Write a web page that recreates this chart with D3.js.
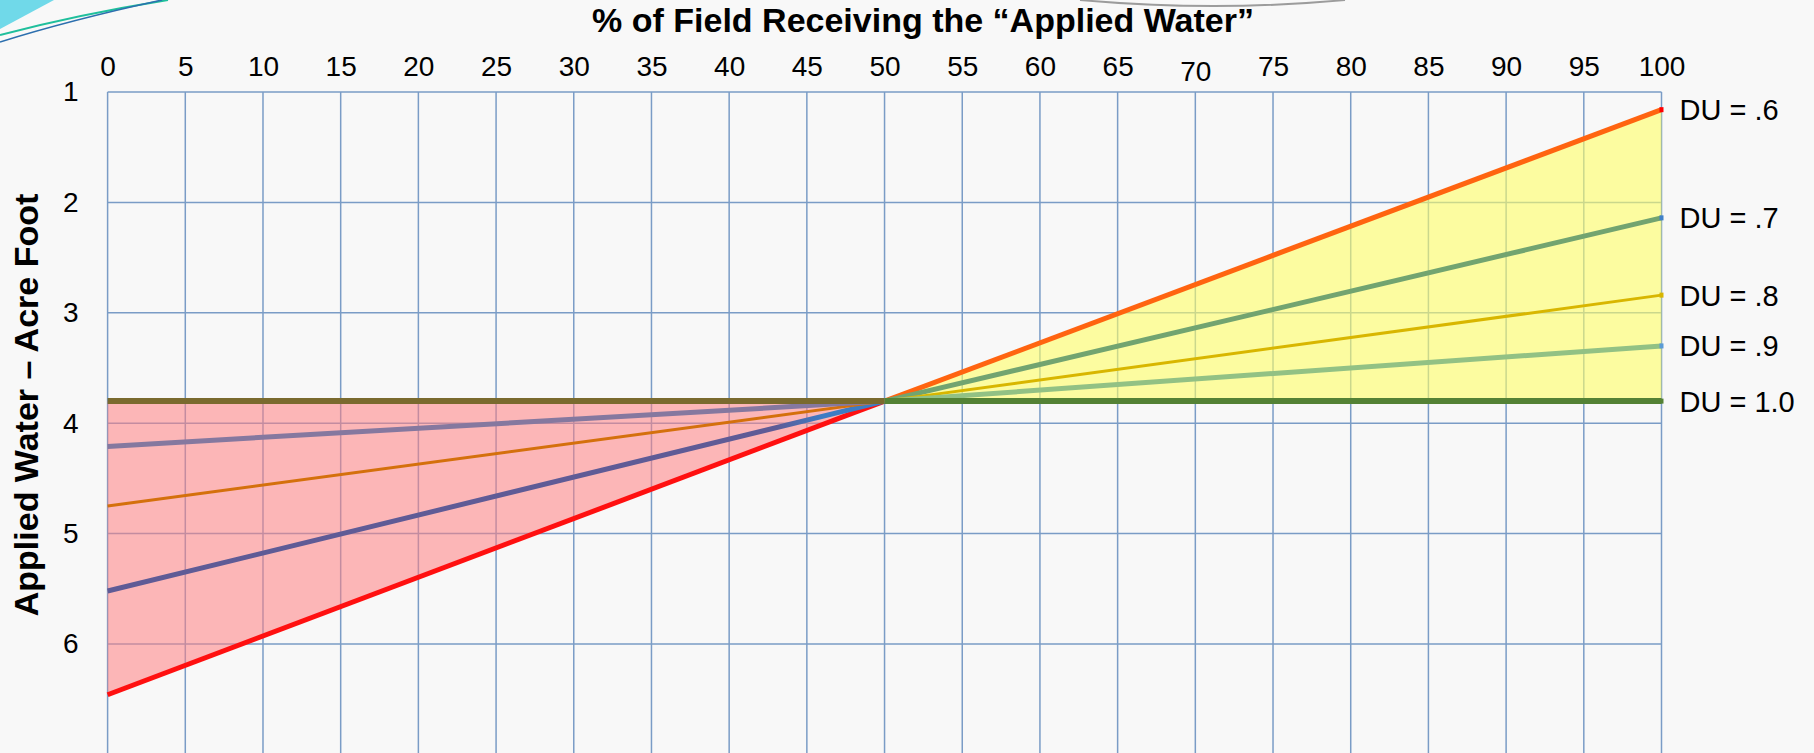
<!DOCTYPE html>
<html lang="en">
<head>
    <meta charset="UTF-8">
    <title>Applied Water by Distribution Uniformity</title>
    <script src="https://d3js.org/d3.v7.min.js"></script>
    <style>
        body {
            margin: 0;
            background-color: #f8f8f8;
            font-family: "Liberation Sans", Arial, sans-serif;
        }
        svg {
            display: block;
        }
    </style>
</head>
<body>
    <svg></svg>

    <script>
        // data
        const xTicks = [0, 5, 10, 15, 20, 25, 30, 35, 40, 45, 50, 55, 60, 65, 70, 75, 80, 85, 90, 95, 100];
        const yTicks = [1, 2, 3, 4, 5, 6, 7];
        const duLabels = ["DU = .6", "DU = .7", "DU = .8", "DU = .9", "DU = 1.0"];
        const startValues = [6.46, 5.52, 4.75, 4.21, 3.80];   // applied water at 0 %
        const meetPercent = 50;                                // where all lines cross
        const meetValue = 3.80;
        const endValues = [1.16, 2.14, 2.84, 3.30, 3.80];     // applied water at 100 %

        // styles
        const leftColors = ["#ff1010", "url(#du7fade)", "#d4700c", "#85789f", "#7a6a2e"];
        const rightColors = ["#ff6410", "#72a470", "#d8b600", "#92c184", "#548235"];
        const lineWidths = [5, 5, 3, 5, 6];
        const endDotColors = ["#ff0000", "#3f80c8", "#d8b600", "#5b9bd5", "#548235"];

        const width = 1814;
        const height = 753;
        const margin = { top: 92, right: 152.5, left: 107.6 };

        const svg = d3.select("svg")
            .attr("width", width)
            .attr("height", height);

        const x = d3.scaleLinear()
            .domain([0, 100])
            .range([margin.left, width - margin.right]);

        const y = d3.scaleLinear()
            .domain([1, 7])
            .range([margin.top, margin.top + 6 * 110.4]);

        // DU .7 turns blue just before the crossing point
        const grad = svg.append("defs").append("linearGradient")
            .attr("id", "du7fade")
            .attr("gradientUnits", "userSpaceOnUse")
            .attr("x1", x(0)).attr("x2", x(meetPercent))
            .attr("y1", 0).attr("y2", 0);
        grad.append("stop").attr("offset", 0.86).attr("stop-color", "#5f5b96");
        grad.append("stop").attr("offset", 0.92).attr("stop-color", "#3d7cc4");

        // template decoration in the corners
        const deco = svg.append("g");
        deco.append("path")
            .attr("d", "M0,0 L54,0 L0,29 Z")
            .attr("fill", "#70d9e9");
        deco.append("path")
            .attr("d", "M0,35 Q80,14 168,0")
            .attr("fill", "none")
            .attr("stroke", "#1fbf9c")
            .attr("stroke-width", 2);
        deco.append("path")
            .attr("d", "M0,42 Q70,20 162,0")
            .attr("fill", "none")
            .attr("stroke", "#2c6fae")
            .attr("stroke-width", 1.5);
        deco.append("path")
            .attr("d", "M1080,0 Q1215,12 1345,0")
            .attr("fill", "none")
            .attr("stroke", "#9c9c9c")
            .attr("stroke-width", 2);

        // grid
        const grid = svg.append("g")
            .attr("stroke", "#7a9cc6")
            .attr("stroke-width", 1.5);

        grid.selectAll(".vline")
            .data(xTicks)
            .enter().append("line")
            .attr("x1", d => x(d))
            .attr("x2", d => x(d))
            .attr("y1", y(1))
            .attr("y2", y(7));

        grid.selectAll(".hline")
            .data(yTicks)
            .enter().append("line")
            .attr("x1", x(0))
            .attr("x2", x(100))
            .attr("y1", d => y(d))
            .attr("y2", d => y(d));

        // shaded bands between DU 1.0 and DU .6
        const lowIdx = 0, highIdx = duLabels.length - 1;
        const band = d3.area()
            .x(d => x(d.p))
            .y0(d => y(d.a))
            .y1(d => y(d.b));

        svg.append("path")
            .datum([
                { p: 0, a: startValues[lowIdx], b: startValues[highIdx] },
                { p: meetPercent, a: meetValue, b: meetValue }
            ])
            .attr("fill", "#ff7f82")
            .attr("fill-opacity", 0.55)
            .attr("d", band);

        svg.append("path")
            .datum([
                { p: meetPercent, a: meetValue, b: meetValue },
                { p: 100, a: endValues[lowIdx], b: endValues[highIdx] }
            ])
            .attr("fill", "#ffff66")
            .attr("fill-opacity", 0.6)
            .attr("d", band);

        // DU lines, each made of a left and a right part
        const line = d3.line()
            .x(d => x(d[0]))
            .y(d => y(d[1]));

        duLabels.forEach((label, i) => {
            svg.append("path")
                .datum([[0, startValues[i]], [meetPercent, meetValue]])
                .attr("fill", "none")
                .attr("stroke", leftColors[i])
                .attr("stroke-width", lineWidths[i])
                .attr("d", line);

            svg.append("path")
                .datum([[meetPercent, meetValue], [100, endValues[i]]])
                .attr("fill", "none")
                .attr("stroke", rightColors[i])
                .attr("stroke-width", lineWidths[i])
                .attr("d", line);

            svg.append("rect")
                .attr("x", x(100) - 2)
                .attr("y", y(endValues[i]) - 2.5)
                .attr("width", 4)
                .attr("height", 5)
                .attr("fill", endDotColors[i]);
        });

        // DU labels on the right
        svg.append("g")
            .selectAll("text")
            .data(duLabels)
            .enter().append("text")
            .attr("x", x(100) + 18)
            .attr("y", (d, i) => y(endValues[i]))
            .attr("dy", "0.36em")
            .attr("font-size", "29px")
            .attr("fill", "#000")
            .text(d => d);

        // axes: labels only, the grid does the rest
        const xAxis = svg.append("g")
            .attr("transform", "translate(0," + y(1) + ")")
            .call(d3.axisTop(x).tickValues(xTicks).tickSize(0).tickPadding(16).tickFormat(d3.format("d")));
        xAxis.select(".domain").remove();
        xAxis.attr("font-size", 28).attr("font-family", "Liberation Sans, Arial, sans-serif");
        xAxis.selectAll("text").attr("fill", "#000");
        xAxis.selectAll("text").filter(d => d === 70).attr("dy", "0.18em");

        const yAxis = svg.append("g")
            .attr("transform", "translate(" + x(0) + ",0)")
            .call(d3.axisLeft(y).tickValues(yTicks.slice(0, 6)).tickSize(0).tickPadding(29).tickFormat(d3.format("d")));
        yAxis.select(".domain").remove();
        yAxis.attr("font-size", 28).attr("font-family", "Liberation Sans, Arial, sans-serif");
        yAxis.selectAll("text").attr("fill", "#000");

        // titles
        svg.append("text")
            .attr("x", 923)
            .attr("y", 32)
            .attr("text-anchor", "middle")
            .attr("font-size", "34px")
            .attr("font-weight", "bold")
            .text("% of Field Receiving the \u201CApplied Water\u201D");

        svg.append("text")
            .attr("transform", "rotate(-90)")
            .attr("x", -405)
            .attr("y", 26)
            .attr("dy", "0.35em")
            .attr("text-anchor", "middle")
            .attr("font-size", "34px")
            .attr("font-weight", "bold")
            .text("Applied Water \u2013 Acre Foot");
    </script>
</body>
</html>
